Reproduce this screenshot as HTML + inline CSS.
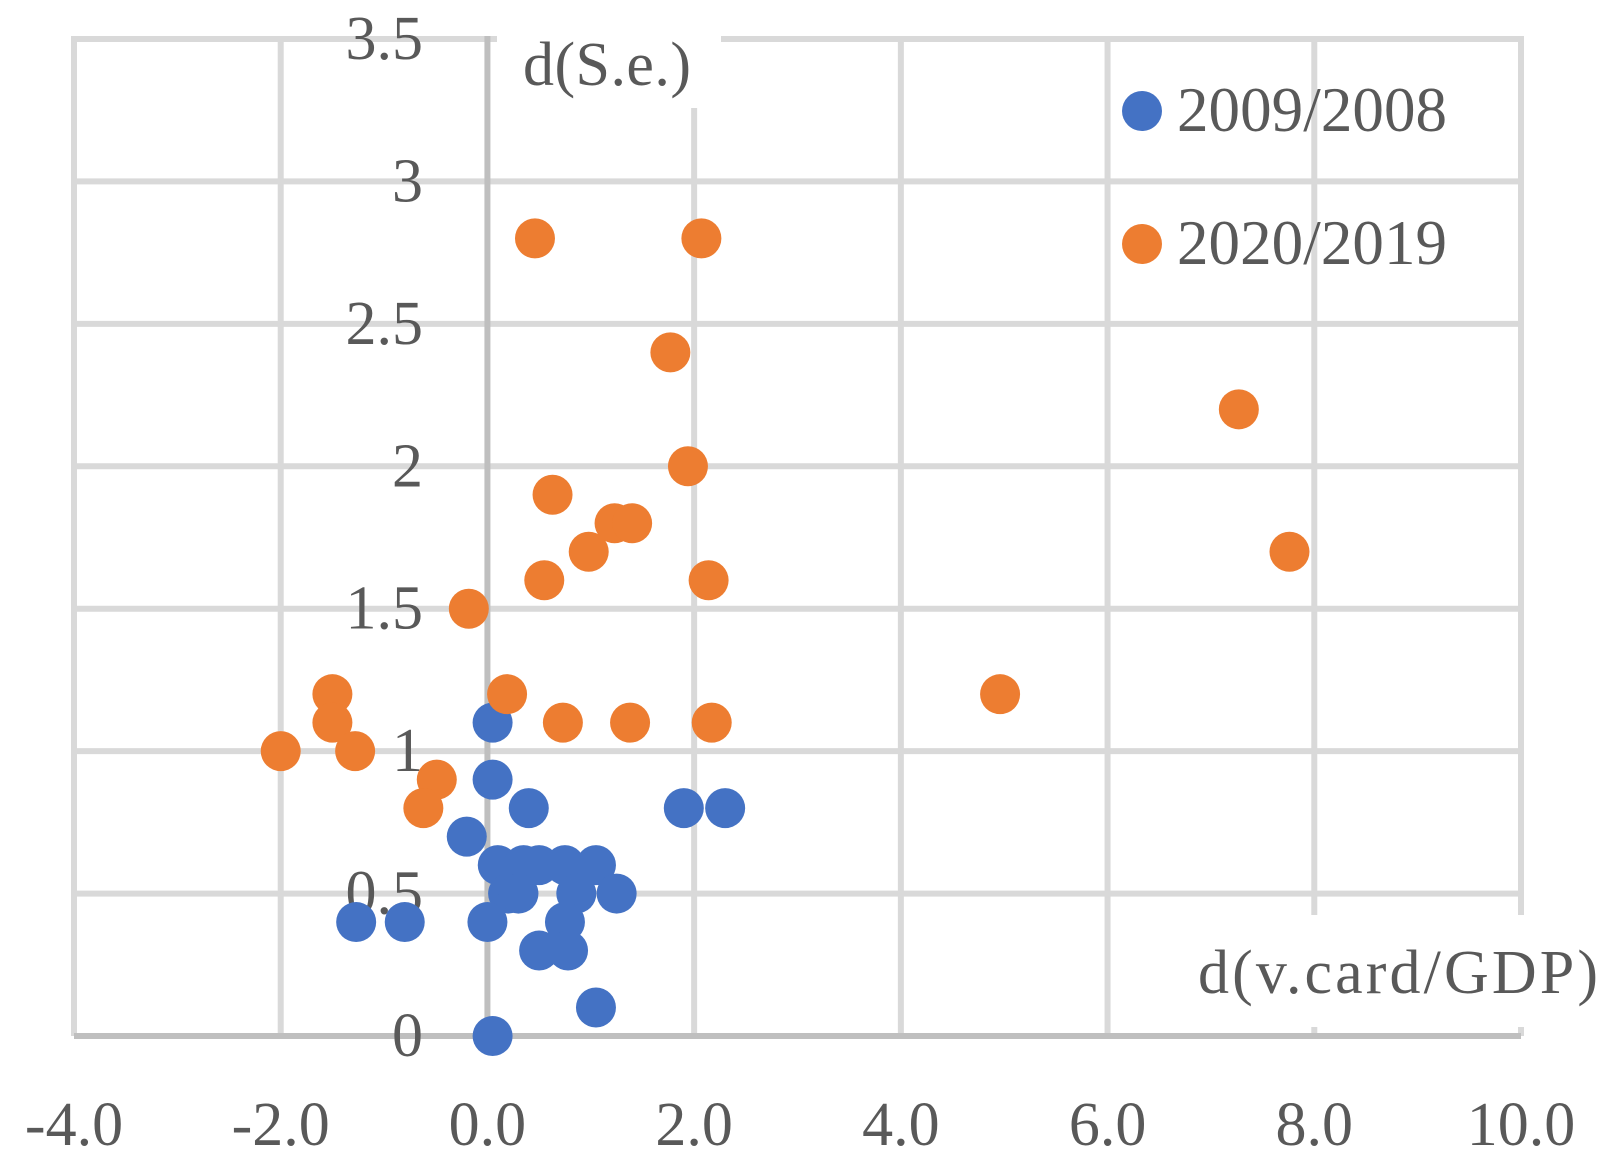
<!DOCTYPE html>
<html><head><meta charset="utf-8"><style>
html,body{margin:0;padding:0;background:#fff;}
svg{display:block;font-family:"Liberation Serif",serif;}
</style></head><body>
<svg id="chart" width="1612" height="1168" viewBox="0 0 1612 1168" xmlns="http://www.w3.org/2000/svg"></svg>
<script>
const xTicks = [-4, -2, 0, 2, 4, 6, 8, 10];
const xTickLabels = ["-4.0", "-2.0", "0.0", "2.0", "4.0", "6.0", "8.0", "10.0"];
const yTicks = [0, 0.5, 1, 1.5, 2, 2.5, 3, 3.5];
const yTickLabels = ["0", "0.5", "1", "1.5", "2", "2.5", "3", "3.5"];
const seriesNames = ["2009/2008", "2020/2019"];
const blueX = [0.05,0.05,0.4,-0.2,1.9,2.3,0.1,0.35,0.5,0.75,1.05,0.2,0.3,0.86,1.25,-1.27,-0.8,0.0,0.75,0.5,0.78,1.05,0.05];
const blueY = [1.1,0.9,0.8,0.7,0.8,0.8,0.6,0.6,0.6,0.6,0.6,0.5,0.5,0.5,0.5,0.4,0.4,0.4,0.4,0.3,0.3,0.1,0.0];
const orangeX = [0.46,2.07,1.77,7.27,1.94,0.63,1.23,1.4,0.98,7.76,0.55,2.14,-0.18,4.96,0.19,-1.5,-1.5,0.73,1.38,2.17,-2.0,-1.28,-0.49,-0.62];
const orangeY = [2.8,2.8,2.4,2.2,2.0,1.9,1.8,1.8,1.7,1.7,1.6,1.6,1.5,1.2,1.2,1.2,1.1,1.1,1.1,1.1,1.0,1.0,0.9,0.8];

const svg = document.getElementById('chart');
const NS = 'http://www.w3.org/2000/svg';
const X0 = 74, X1 = 1521, Y0 = 1036, Y1 = 39;
function sx(v){ return X0 + (v - (-4)) / 14 * (X1 - X0); }
function sy(v){ return Y0 - v / 3.5 * (Y0 - Y1); }
function mk(tag, attrs, parent){
  const e = document.createElementNS(NS, tag);
  for (const k in attrs) e.setAttribute(k, attrs[k]);
  (parent || svg).appendChild(e);
  return e;
}
const grid = mk('g', {});


xTicks.forEach(t => {
  if (t === 0) return;
  const l = mk('line', {x1: sx(t), x2: sx(t), y1: Y1 - 3, y2: Y0, stroke: '#d9d9d9', 'stroke-width': 6}, grid);
  
  
});
yTicks.forEach(t => {
  if (t === 0) return;
  const l = mk('line', {x1: X0 - 3, x2: X1 + 3, y1: sy(t), y2: sy(t), stroke: '#d9d9d9', 'stroke-width': 6}, grid);
  
  
});
const ya = mk('line', {x1: sx(0), x2: sx(0), y1: Y1 - 3, y2: Y0, stroke: '#bfbfbf', 'stroke-width': 6});


const xa = mk('line', {x1: X0, x2: X1, y1: Y0, y2: Y0, stroke: '#bfbfbf', 'stroke-width': 6});



// title boxes
const b1 = mk('rect', {x: 497, y: 0, width: 224, height: 108, fill: '#fff'});


const b2 = mk('rect', {x: 1185, y: 915, width: 427, height: 112, fill: '#fff'});



yTicks.forEach((t, i) => {
  const tx = mk('text', {x: 423, y: sy(t) + 20, 'text-anchor': 'end', 'font-size': 62, fill: '#595959'});
  tx.textContent = yTickLabels[i];
  
  
});
xTicks.forEach((t, i) => {
  const tx = mk('text', {x: sx(t), y: 1145, 'text-anchor': 'middle', 'font-size': 62, fill: '#595959'});
  tx.textContent = xTickLabels[i];
  
  
});
const yt = mk('text', {x: 523, y: 85, 'font-size': 62, fill: '#595959', textLength: 168});
yt.textContent = 'd(S.e.)';


const xt = mk('text', {x: 1198, y: 993, 'font-size': 62, fill: '#595959', textLength: 400});
xt.textContent = 'd(v.card/GDP)';



function drawSeries(xs, ys, color, name){
  const g = mk('g', {});
  
  
  xs.forEach((v, i) => {
    const c = mk('circle', {cx: sx(v), cy: sy(ys[i]), r: 20, fill: color}, g);
    
    
  });
}
drawSeries(blueX, blueY, '#4472c4', 'series-2009-2008');
drawSeries(orangeX, orangeY, '#ed7d31', 'series-2020-2019');

const legendColors = ['#4472c4', '#ed7d31'];
seriesNames.forEach((n, i) => {
  const g = mk('g', {});
  
  
  const cy = 111 + i * 133;
  mk('circle', {cx: 1142, cy: cy, r: 20, fill: legendColors[i]}, g);
  const t = mk('text', {x: 1177, y: cy + 20, 'font-size': 63, fill: '#595959', textLength: 270}, g);
  t.textContent = n;
});
</script>
</body></html>
